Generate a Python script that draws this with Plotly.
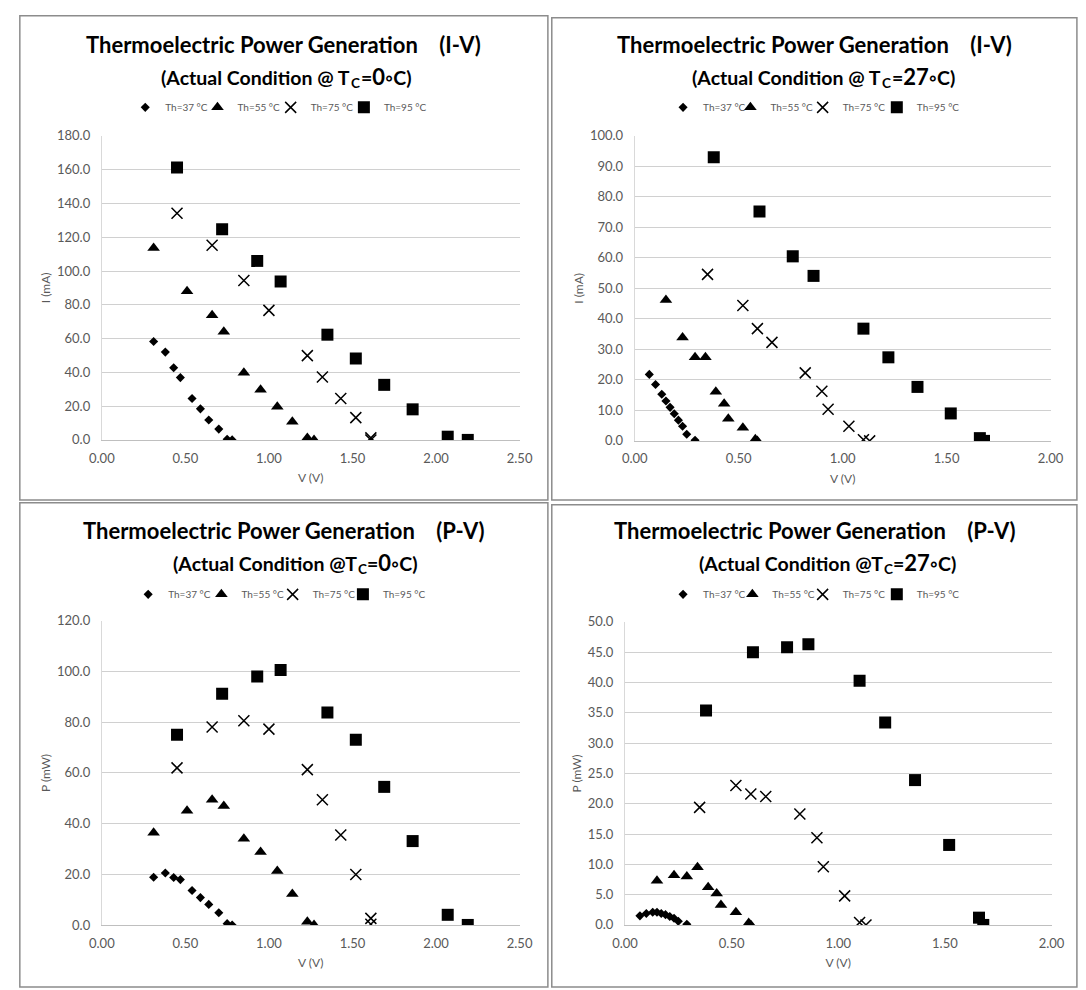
import plotly.graph_objects as go

# ---------------- data ----------------
SERIES_NAMES = ["Th=37 °C", "Th=55 °C", "Th=75 °C", "Th=95 °C"]

# Tc = 0 °C
V_TC0_TH37 = [0.31, 0.38, 0.43, 0.47, 0.54, 0.59, 0.64, 0.70, 0.75, 0.78]
I_TC0_TH37 = [58.3, 52.0, 42.7, 36.9, 24.5, 18.4, 11.8, 6.4, 0.4, 0.0]
P_TC0_TH37 = [18.8, 20.5, 18.7, 17.9, 13.6, 10.8, 8.1, 4.8, 0.5, 0.0]

V_TC0_TH55 = [0.31, 0.51, 0.66, 0.73, 0.85, 0.95, 1.05, 1.14, 1.23, 1.27]
I_TC0_TH55 = [113.7, 88.0, 73.8, 64.1, 39.8, 29.7, 19.6, 10.7, 1.2, 0.0]
P_TC0_TH55 = [36.4, 45.1, 49.4, 46.9, 34.0, 28.8, 21.3, 12.2, 1.3, 0.0]

V_TC0_TH75 = [0.45, 0.66, 0.85, 1.00, 1.23, 1.32, 1.43, 1.52, 1.61, 1.61]
I_TC0_TH75 = [134.2, 115.2, 94.4, 76.7, 49.9, 37.3, 24.5, 13.2, 1.2, 0.0]
P_TC0_TH75 = [62.0, 78.1, 80.6, 77.3, 61.3, 49.4, 35.5, 19.9, 2.6, 0.3]

V_TC0_TH95 = [0.45, 0.72, 0.93, 1.07, 1.35, 1.52, 1.69, 1.86, 2.07, 2.19]
I_TC0_TH95 = [161.3, 124.8, 106.0, 93.8, 62.3, 48.2, 32.6, 18.1, 1.9, 0.0]
P_TC0_TH95 = [75.1, 91.3, 98.1, 100.6, 83.9, 73.1, 54.5, 33.1, 4.0, 0.0]

# Tc = 27 °C
V_TC27_TH37 = [0.07, 0.10, 0.13, 0.15, 0.17, 0.19, 0.21, 0.23, 0.25, 0.29]
I_TC27_TH37 = [21.8, 18.5, 15.3, 13.1, 11.0, 8.9, 6.8, 4.8, 2.2, 0.2]
P_TC27_TH37 = [1.5, 1.9, 2.1, 2.1, 1.9, 1.7, 1.4, 1.1, 0.6, 0.1]

V_TC27_TH55 = [0.15, 0.23, 0.29, 0.34, 0.39, 0.43, 0.45, 0.52, 0.58, 0.59]
I_TC27_TH55 = [46.2, 33.9, 27.4, 27.4, 16.1, 12.2, 7.3, 4.3, 0.5, 0.0]
P_TC27_TH55 = [7.3, 8.2, 8.0, 9.5, 6.2, 5.2, 3.3, 2.1, 0.3, 0.0]

V_TC27_TH75 = [0.35, 0.52, 0.59, 0.66, 0.82, 0.90, 0.93, 1.03, 1.10, 1.13]
I_TC27_TH75 = [54.6, 44.4, 36.8, 32.3, 22.3, 16.3, 10.4, 4.8, 0.4, 0.0]
P_TC27_TH75 = [19.4, 23.0, 21.6, 21.2, 18.3, 14.4, 9.6, 4.8, 0.4, 0.0]

V_TC27_TH95 = [0.38, 0.60, 0.76, 0.86, 1.10, 1.22, 1.36, 1.52, 1.66, 1.68]
I_TC27_TH95 = [93.0, 75.2, 60.5, 54.1, 36.8, 27.4, 17.7, 9.0, 0.9, 0.0]
P_TC27_TH95 = [35.4, 45.0, 45.8, 46.3, 40.3, 33.4, 23.9, 13.2, 1.2, 0.0]

# ---------------- styling ----------------
W, H = 1086, 990
FONT = "Lato, 'Open Sans', sans-serif"
GRAY_TXT = "#595959"
GRID = "#d0d0d0"

MARKERS = [
    dict(symbol="diamond", size=7, color="#000000"),
    dict(symbol="triangle-up", size=11, color="#000000"),
    dict(symbol="x-thin", size=11, color="#000000", line=dict(width=1.5, color="#000000")),
    dict(symbol="square", size=12, color="#000000"),
]


def px(x):
    return x / W


def py(y):
    return 1 - y / H


# panel definitions: plot-area pixel boxes (left, right, top, bottom)
panels = [
    dict(xa="x", ya="y", box=(91, 519, 130, 439), ymax=180, dy=20, xmax=2.5,
         V=[V_TC0_TH37, V_TC0_TH55, V_TC0_TH75, V_TC0_TH95],
         Y=[I_TC0_TH37, I_TC0_TH55, I_TC0_TH75, I_TC0_TH95],
         title="Thermoelectric Power Generation\u00a0\u00a0\u00a0\u00a0(I-V)",
         sub_a="(Actual Condition @ T", sub_tc="0", sub_split=347,
         title_x=277, title_y=37, sub_y=71, leg_y=101, leg_sym=[139, 213, 288, 363],
         ytitle="I (mA)"),
    dict(xa="x2", ya="y2", box=(637, 1063, 130, 440), ymax=100, dy=10, xmax=2.0,
         V=[V_TC27_TH37, V_TC27_TH55, V_TC27_TH75, V_TC27_TH95],
         Y=[I_TC27_TH37, I_TC27_TH55, I_TC27_TH75, I_TC27_TH95],
         title="Thermoelectric Power Generation\u00a0\u00a0\u00a0\u00a0(I-V)",
         sub_a="(Actual Condition @ T", sub_tc="27", sub_split=891,
         title_x=821, title_y=37, sub_y=71, leg_y=101, leg_sym=[690, 759, 833, 909],
         ytitle="I (mA)"),
    dict(xa="x3", ya="y3", box=(91, 519, 623, 932), ymax=120, dy=20, xmax=2.5,
         V=[V_TC0_TH37, V_TC0_TH55, V_TC0_TH75, V_TC0_TH95],
         Y=[P_TC0_TH37, P_TC0_TH55, P_TC0_TH75, P_TC0_TH95],
         title="Thermoelectric Power Generation\u00a0\u00a0\u00a0\u00a0(P-V)",
         sub_a="(Actual Condition @T", sub_tc="0", sub_split=354,
         title_x=278, title_y=531, sub_y=565, leg_y=596, leg_sym=[142, 217, 290, 362],
         ytitle="P (mW)"),
    dict(xa="x4", ya="y4", box=(627, 1064, 624, 932), ymax=50, dy=5, xmax=2.0,
         V=[V_TC27_TH37, V_TC27_TH55, V_TC27_TH75, V_TC27_TH95],
         Y=[P_TC27_TH37, P_TC27_TH55, P_TC27_TH75, P_TC27_TH95],
         title="Thermoelectric Power Generation\u00a0\u00a0\u00a0\u00a0(P-V)",
         sub_a="(Actual Condition @T", sub_tc="27", sub_split=893,
         title_x=822, title_y=531, sub_y=565, leg_y=596, leg_sym=[690, 761, 833, 909],
         ytitle="P (mW)"),
]

fig = go.Figure()
annotations = []
layout = dict(
    width=W, height=H, margin=dict(l=0, r=0, t=0, b=0),
    paper_bgcolor="white", plot_bgcolor="white",
    font=dict(family=FONT, color=GRAY_TXT, size=12),
)

for k, p in enumerate(panels):
    l, r, t, b = p["box"]
    for s in range(4):
        n = 4 * k + s + 1
        leg = "legend" if n == 1 else f"legend{n}"
        fig.add_trace(go.Scatter(
            x=p["V"][s], y=p["Y"][s], mode="markers", name=SERIES_NAMES[s],
            marker=MARKERS[s], xaxis=p["xa"], yaxis=p["ya"], legend=leg,
            showlegend=True,
        ))
        # one legend entry per series, placed where the reference shows it
        layout[leg] = dict(
            orientation="h", x=px(p["leg_sym"][s] - 4 - 20), y=py(p["leg_y"]),
            xanchor="left", yanchor="middle",
            font=dict(size=10, color=GRAY_TXT, family=FONT), bgcolor="rgba(0,0,0,0)",
            itemwidth=30, tracegroupgap=0,
        )
    xkey = "xaxis" if k == 0 else f"xaxis{k+1}"
    ykey = "yaxis" if k == 0 else f"yaxis{k+1}"
    layout[xkey] = dict(
        domain=[px(l), px(r)], anchor=p["ya"], range=[0, p["xmax"]], dtick=0.5,
        tickformat=".2f", showgrid=False, zeroline=False, showline=True,
        linecolor="#bfbfbf", linewidth=1, ticks="", ticklabelstandoff=6,
        tickfont=dict(size=13, color=GRAY_TXT, family=FONT), fixedrange=True,
        title=dict(text="V (V)", standoff=9, font=dict(size=12, color=GRAY_TXT, family=FONT)),
    )
    layout[ykey] = dict(
        domain=[py(b), py(t)], anchor=p["xa"], range=[0, p["ymax"]], dtick=p["dy"],
        tickformat=".1f", showgrid=True, gridcolor=GRID, gridwidth=1, zeroline=False,
        showline=True, linecolor="#d9d9d9", linewidth=1, ticks="", ticklabelstandoff=8,
        tickfont=dict(size=13, color=GRAY_TXT, family=FONT), fixedrange=True,
        title=dict(text=p["ytitle"], standoff=3, font=dict(size=12, color=GRAY_TXT, family=FONT)),
    )
    xs = p["sub_split"]
    annotations += [
        dict(text="<b>" + p["title"] + "</b>", x=px(p["title_x"]), y=py(p["title_y"]),
             xref="paper", yref="paper", showarrow=False, xanchor="center", yanchor="middle",
             font=dict(size=22, color="#000000", family=FONT)),
        # subtitle: "(Actual Condition @ T" + subscript "C" + "=0◦C)"
        dict(text="<b>" + p["sub_a"] + "</b>", x=px(xs), y=py(p["sub_y"]),
             xref="paper", yref="paper", showarrow=False, xanchor="right", yanchor="middle",
             font=dict(size=19.5, color="#000000", family=FONT)),
        dict(text="<b>C</b>", x=px(xs - 3), y=py(p["sub_y"] + 5),
             xref="paper", yref="paper", showarrow=False, xanchor="left", yanchor="middle",
             font=dict(size=13.5, color="#000000", family=FONT)),
        dict(text="<b>=<span style='font-size:22px'>" + p["sub_tc"] + "</span>◦C)</b>",
             x=px(xs + 7), y=py(p["sub_y"] - 1),
             xref="paper", yref="paper", showarrow=False, xanchor="left", yanchor="middle",
             font=dict(size=19.5, color="#000000", family=FONT)),
    ]

# panel frames
frames = [(7, 8, 548, 500), (552, 10, 1090, 500), (7, 503, 548, 995), (552, 505, 1090, 995)]
shapes = [dict(type="rect", xref="paper", yref="paper", x0=px(a), x1=px(c), y0=py(d), y1=py(b),
               line=dict(color="#8c8c8c", width=1.5), fillcolor="rgba(0,0,0,0)", layer="below")
          for (a, b, c, d) in frames]

layout["annotations"] = annotations
layout["shapes"] = shapes
fig.update_layout(**layout)

POST = (
    "document.documentElement.style.margin='0';"
    "document.documentElement.style.padding='0';"
    "document.body.style.margin='0';document.body.style.padding='0';"
    "document.body.style.overflow='hidden';"
    "var d=document.getElementById('{plot_id}');"
    "d.style.position='absolute';d.style.left='0px';d.style.top='0px';"
)

fig.write_html("out.html", config={"displayModeBar": False}, post_script=POST)
